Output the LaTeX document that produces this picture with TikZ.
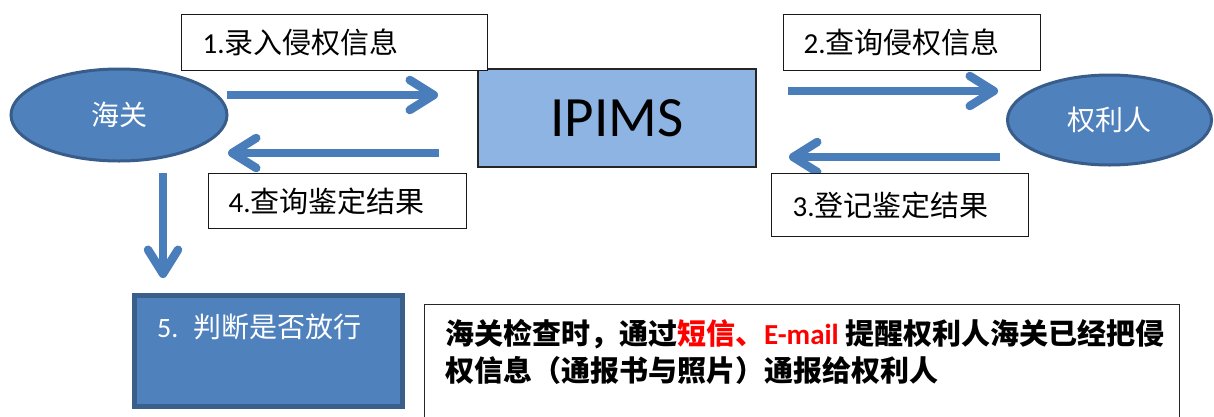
\documentclass[tikz,border=0pt]{standalone}
\usepackage{fontspec}
\setmainfont{Noto Sans CJK SC}
\newfontfamily\calfont{Carlito}[BoldFont={Carlito Bold}]
\usetikzlibrary{arrows.meta,shapes.geometric}
\definecolor{ellfill}{HTML}{4F81BD}
\definecolor{ellline}{HTML}{385D8A}
\definecolor{ipfill}{HTML}{8DB4E2}
\definecolor{arrowblue}{HTML}{4A7EBB}
\definecolor{boxline}{HTML}{3A5F8B}
\definecolor{redtxt}{HTML}{FF0000}
\newcommand\fsz[1]{\fontsize{#1}{#1}\selectfont}
\begin{document}
\begin{tikzpicture}[x=1pt,y=-1pt,
  actor/.style={ellipse, draw=ellline, line width=3pt, fill=ellfill, text=white,
    font=\fsz{28}, inner sep=0pt},
  sysbox/.style={rectangle, draw=black!85, line width=1.2pt, fill=ipfill,
    font=\calfont\fsz{57}, inner sep=0pt},
  lbl/.style={rectangle, draw=black!90, line width=1.3pt, fill=white, anchor=north west,
    align=left, font=\fsz{29}, inner ysep=0pt},
  judgebox/.style={rectangle, draw=boxline, line width=5pt, fill=ellfill, inner sep=0pt},
  notebox/.style={rectangle, draw=black!85, line width=1.2pt, fill=white, anchor=north west, inner sep=0pt},
  notetxt/.style={anchor=base west, font=\bfseries\fsz{29}, inner sep=0pt},
  flow/.style={draw=arrowblue, line width=8.5pt, -{Straight Barb[length=24pt 0, width=30pt 0, round]}}
]
\useasboundingbox (0,0) rectangle (1214,416);
\clip (0,0) rectangle (1214,416);

% main nodes
\node[actor, minimum width=216pt, minimum height=92pt] (customs) at (119,115) {海关};
\node[actor, minimum width=204pt, minimum height=90pt] (holder) at (1109.5,120) {权利人};
\node[sysbox, minimum width=278pt, minimum height=98pt] (ipims) at (617,118) {IPIMS};
\node[judgebox, minimum width=268pt, minimum height=111pt] (judge) at (268.5,351) {};
\node[anchor=west, text=white, font=\fsz{28}, inner sep=0pt] (judgetxt) at (157,327) {{\calfont 5.}\hspace{15pt}判断是否放行};

% arrow end points
\coordinate (a1s) at (227,95);  \coordinate (a1e) at (438,95);
\coordinate (a4s) at (439,153); \coordinate (a4e) at (228,153);
\coordinate (a2s) at (788,91);  \coordinate (a2e) at (998,91);
\coordinate (a3s) at (1000,157);\coordinate (a3e) at (789,157);
\coordinate (a5s) at (163,173); \coordinate (a5e) at (163,278);

\draw[flow] (a1s) -- (a1e);
\draw[flow] (a4s) -- (a4e);
\draw[flow] (a2s) -- (a2e);
\draw[flow] (a3s) -- (a3e);
\draw[flow] (a5s) -- (a5e);

% step labels
\node[lbl, minimum width=306pt, minimum height=56pt, inner xsep=21pt, text width=264pt] (l1) at (181,14) {{\calfont 1.}录入侵权信息};
\node[lbl, minimum width=257pt, minimum height=56pt, inner xsep=20pt, text width=217pt] (l2) at (783,14) {{\calfont 2.}查询侵权信息};
\node[lbl, minimum width=258pt, minimum height=55pt, inner xsep=20pt, text width=218pt] (l4) at (208,173) {{\calfont 4.}查询鉴定结果};
\node[lbl, minimum width=257pt, minimum height=63pt, inner xsep=21pt, text width=215pt] (l3) at (771,173) {{\calfont 3.}登记鉴定结果};

% note
\node[notebox, minimum width=755pt, minimum height=130pt] (note) at (424,304) {};
\node[notetxt] (note1) at (445,344) {海关检查时，通过\textcolor{redtxt}{短信、{\calfont\bfseries E-mail}} 提醒权利人海关已经把侵};
\node[notetxt] (note2) at (445,381) {权信息（通报书与照片）通报给权利人};
\end{tikzpicture}
\end{document}
